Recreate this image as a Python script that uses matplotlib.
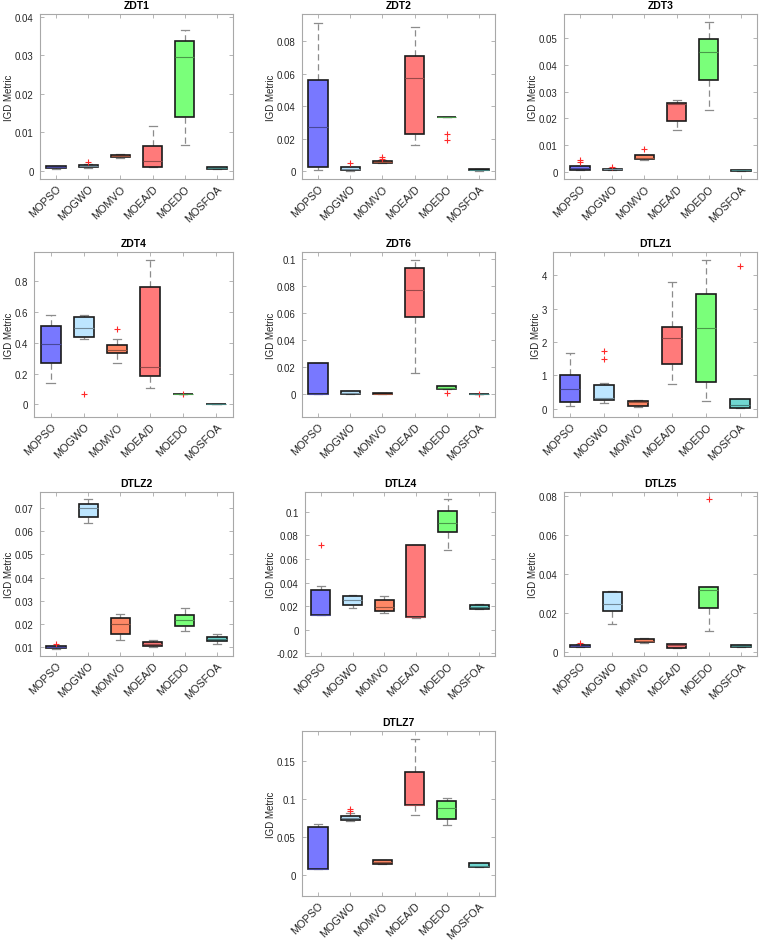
import matplotlib
matplotlib.use("Agg")
import matplotlib.pyplot as plt
import matplotlib.transforms as mtransforms
from matplotlib.ticker import MultipleLocator, FormatStrFormatter
from matplotlib.colors import to_rgb

plt.rcParams['font.family'] = ['Liberation Sans', 'DejaVu Sans']

algorithms = ['MOPSO', 'MOGWO', 'MOMVO', 'MOEA/D', 'MOEDO', 'MOSFOA']
colors = ['#7878ff', '#bde6ff', '#ff8866', '#ff7a7a', '#7aff7a', '#70d6d0']

# box statistics: lower whisker, q1, median, q3, upper whisker, outliers
zdt1_lo = [0.0005, 0.0007, 0.0032, 0.0009, 0.0067, 0.0003]
zdt1_q1 = [0.0007, 0.0009, 0.0034, 0.00095, 0.0140, 0.0004]
zdt1_med = [0.0009, 0.0012, 0.0037, 0.0024, 0.0294, 0.0006]
zdt1_q3 = [0.0012, 0.0014, 0.0040, 0.0064, 0.0338, 0.0009]
zdt1_hi = [0.0013, 0.0017, 0.0042, 0.0117, 0.0365, 0.0010]
zdt1_out = [[], [0.0022], [], [], [], []]

zdt2_lo = [0.0006, 0.0003, 0.0047, 0.0161, 0.0333, 0.0003]
zdt2_q1 = [0.00265, 0.0006, 0.0050, 0.0231, 0.0333, 0.0004]
zdt2_med = [0.0273, 0.0015, 0.0055, 0.0573, 0.0333, 0.0008]
zdt2_q3 = [0.0559, 0.0022, 0.0061, 0.0710, 0.0333, 0.0012]
zdt2_hi = [0.0914, 0.0025, 0.0065, 0.0890, 0.0333, 0.0013]
zdt2_out = [[], [0.0047], [0.0086, 0.0073], [], [0.0227, 0.0190], []]

zdt3_lo = [0.0005, 0.0007, 0.0045, 0.0156, 0.0233, 0.0003]
zdt3_q1 = [0.0007, 0.0008, 0.0047, 0.0189, 0.0344, 0.0004]
zdt3_med = [0.0013, 0.0010, 0.0053, 0.0253, 0.0449, 0.0005]
zdt3_q3 = [0.0020, 0.0012, 0.0062, 0.0258, 0.0496, 0.0006]
zdt3_hi = [0.0022, 0.0013, 0.0063, 0.0270, 0.0560, 0.0007]
zdt3_out = [[0.0045, 0.0035], [0.0019], [0.0087], [], [], []]

zdt4_lo = [0.137, 0.427, 0.267, 0.106, 0.065, 0.0]
zdt4_q1 = [0.271, 0.438, 0.334, 0.184, 0.065, 0.0]
zdt4_med = [0.392, 0.499, 0.353, 0.243, 0.065, 0.0]
zdt4_q3 = [0.5095, 0.568, 0.384, 0.763, 0.065, 0.0]
zdt4_hi = [0.579, 0.579, 0.423, 0.937, 0.065, 0.0]
zdt4_out = [[], [0.065], [0.492], [], [0.065], []]

zdt6_lo = [0.0, 0.0, 0.0002, 0.0157, 0.0039, 0.0001]
zdt6_q1 = [0.0, 0.0, 0.0002, 0.0569, 0.0039, 0.0001]
zdt6_med = [0.0, 0.0010, 0.0005, 0.0766, 0.0050, 0.0002]
zdt6_q3 = [0.0231, 0.0022, 0.0008, 0.0933, 0.0061, 0.0003]
zdt6_hi = [0.0231, 0.0022, 0.0008, 0.0987, 0.0061, 0.0003]
zdt6_out = [[], [], [], [], [0.0012], [0.0]]

dtlz1_lo = [0.07, 0.18, 0.05, 0.75, 0.24, 0.02]
dtlz1_q1 = [0.20, 0.25, 0.09, 1.35, 0.79, 0.03]
dtlz1_med = [0.59, 0.32, 0.19, 2.12, 2.42, 0.12]
dtlz1_q3 = [1.02, 0.70, 0.23, 2.44, 3.45, 0.30]
dtlz1_hi = [1.67, 0.78, 0.26, 3.81, 4.47, 0.30]
dtlz1_out = [[], [1.73, 1.49], [], [], [], [4.28]]

dtlz2_lo = [0.0095, 0.0635, 0.0130, 0.0101, 0.0169, 0.0113]
dtlz2_q1 = [0.0097, 0.0660, 0.0159, 0.0106, 0.0192, 0.0126]
dtlz2_med = [0.0101, 0.0700, 0.0200, 0.0116, 0.0217, 0.0135]
dtlz2_q3 = [0.0106, 0.0716, 0.0228, 0.0123, 0.0238, 0.0143]
dtlz2_hi = [0.0108, 0.0739, 0.0243, 0.0132, 0.0269, 0.0156]
dtlz2_out = [[0.0116], [], [], [], [], []]

dtlz4_lo = [0.0125, 0.0182, 0.0142, 0.0100, 0.0680, 0.0178]
dtlz4_q1 = [0.0125, 0.0205, 0.0160, 0.0108, 0.0829, 0.0179]
dtlz4_med = [0.0125, 0.0250, 0.0194, 0.0110, 0.0906, 0.0195]
dtlz4_q3 = [0.0336, 0.0285, 0.0248, 0.0715, 0.1006, 0.0208]
dtlz4_hi = [0.0373, 0.0291, 0.0282, 0.0715, 0.1110, 0.0219]
dtlz4_out = [[0.0715], [], [], [], [], []]

dtlz5_lo = [0.0025, 0.0144, 0.0047, 0.0021, 0.0105, 0.0026]
dtlz5_q1 = [0.0027, 0.0209, 0.0050, 0.0021, 0.0225, 0.0027]
dtlz5_med = [0.0032, 0.0247, 0.0057, 0.0033, 0.0318, 0.0030]
dtlz5_q3 = [0.0037, 0.0306, 0.0064, 0.0043, 0.0335, 0.0034]
dtlz5_hi = [0.0039, 0.0314, 0.0071, 0.0043, 0.0335, 0.0035]
dtlz5_out = [[0.0045], [], [], [], [0.0786], []]

dtlz7_lo = [0.0079, 0.0712, 0.0148, 0.0792, 0.0660, 0.0100]
dtlz7_q1 = [0.0079, 0.0726, 0.0150, 0.0919, 0.0739, 0.0101]
dtlz7_med = [0.0079, 0.0748, 0.0170, 0.0919, 0.0880, 0.0125]
dtlz7_q3 = [0.0633, 0.0778, 0.0193, 0.1363, 0.0981, 0.0154]
dtlz7_hi = [0.0677, 0.0822, 0.0200, 0.1799, 0.1016, 0.0156]
dtlz7_out = [[], [0.0866, 0.0840], [], [], [], []]

titles = ['ZDT1', 'ZDT2', 'ZDT3', 'ZDT4', 'ZDT6', 'DTLZ1', 'DTLZ2', 'DTLZ4', 'DTLZ5', 'DTLZ7']
stats = [
    (zdt1_lo, zdt1_q1, zdt1_med, zdt1_q3, zdt1_hi, zdt1_out),
    (zdt2_lo, zdt2_q1, zdt2_med, zdt2_q3, zdt2_hi, zdt2_out),
    (zdt3_lo, zdt3_q1, zdt3_med, zdt3_q3, zdt3_hi, zdt3_out),
    (zdt4_lo, zdt4_q1, zdt4_med, zdt4_q3, zdt4_hi, zdt4_out),
    (zdt6_lo, zdt6_q1, zdt6_med, zdt6_q3, zdt6_hi, zdt6_out),
    (dtlz1_lo, dtlz1_q1, dtlz1_med, dtlz1_q3, dtlz1_hi, dtlz1_out),
    (dtlz2_lo, dtlz2_q1, dtlz2_med, dtlz2_q3, dtlz2_hi, dtlz2_out),
    (dtlz4_lo, dtlz4_q1, dtlz4_med, dtlz4_q3, dtlz4_hi, dtlz4_out),
    (dtlz5_lo, dtlz5_q1, dtlz5_med, dtlz5_q3, dtlz5_hi, dtlz5_out),
    (dtlz7_lo, dtlz7_q1, dtlz7_med, dtlz7_q3, dtlz7_hi, dtlz7_out),
]

# axes limits and tick step for each panel
ylims = [(-0.0022, 0.0407), (-0.0049, 0.0967), (-0.0027, 0.0591), (-0.082, 0.991),
         (-0.0167, 0.1048), (-0.25, 4.7), (0.0063, 0.0769), (-0.0225, 0.117),
         (-0.0021, 0.082), (-0.0277, 0.19)]
ysteps = [0.01, 0.02, 0.01, 0.2, 0.02, 1, 0.01, 0.02, 0.02, 0.05]

# axes boxes in pixels: left, right, top, bottom
boxes_px = [(40, 233, 15, 180), (302, 495, 15, 180), (564, 757, 15, 180),
            (34, 233, 253, 418), (302, 495, 253, 418), (553, 757, 253, 418),
            (40, 233, 493, 657), (305, 495, 493, 657), (564, 757, 493, 657),
            (302, 495, 732, 897)]

W, H = 760, 945
fig = plt.figure(figsize=(W / 100, H / 100), dpi=100)

spine_col = '#a8a8a8'
text_col = '#262626'

# small shift of the rotated category labels, like the MATLAB layout
label_shift = mtransforms.ScaledTranslation(5 / 100, -3 / 100, fig.dpi_scale_trans)


def darker(c, f=0.6):
    r, g, b = to_rgb(c)
    return (r * f, g * f, b * f)


for k in range(len(titles)):
    l, r, t, b = boxes_px[k]
    ax = fig.add_axes([l / W, 1 - b / H, (r - l) / W, (b - t) / H])
    lo, q1, med, q3, hi, out = stats[k]
    bstats = []
    for i in range(len(algorithms)):
        bstats.append(dict(whislo=lo[i], q1=q1[i], med=med[i], q3=q3[i],
                           whishi=hi[i], fliers=out[i]))
    bp = ax.bxp(bstats, positions=range(1, 7), widths=0.6, capwidths=0.25,
                patch_artist=True, showfliers=True,
                boxprops=dict(edgecolor='#1a1a1a', linewidth=1.2),
                whiskerprops=dict(color='#8c8c8c', linewidth=0.9, linestyle=(0, (5, 3))),
                capprops=dict(color='#8c8c8c', linewidth=0.9),
                flierprops=dict(marker='+', markeredgecolor='#ff2a2a', markersize=4.5,
                                markeredgewidth=0.8, linestyle='none'),
                medianprops=dict(linewidth=0.8))
    for patch, med_line, c in zip(bp['boxes'], bp['medians'], colors):
        patch.set_facecolor(c)
        med_line.set_color(darker(c))
    for w in bp['whiskers']:
        w.set_zorder(1)
    for c in bp['caps']:
        c.set_zorder(1)

    ax.set_xlim(0.5, 6.5)
    ax.set_ylim(*ylims[k])
    ax.yaxis.set_major_locator(MultipleLocator(ysteps[k]))
    ax.yaxis.set_major_formatter(FormatStrFormatter('%g'))
    ax.set_xticks(range(1, 7))
    ax.set_xticklabels(algorithms, rotation=45, ha='right', rotation_mode='anchor',
                       fontsize=7.8)
    for lab in ax.get_xticklabels():
        lab.set_transform(lab.get_transform() + label_shift)
    ax.tick_params(direction='in', length=3, width=0.6, color=spine_col,
                   labelcolor=text_col, top=True, right=True)
    ax.tick_params(axis='y', labelsize=7, pad=4.5)
    ax.tick_params(axis='x', pad=3)
    for s in ax.spines.values():
        s.set_color(spine_col)
        s.set_linewidth(0.8)
    ax.set_title(titles[k], fontsize=7.5, fontweight='bold', color='black', pad=4)
    ax.set_ylabel('IGD Metric', fontsize=7, color=text_col, labelpad=0.5)

fig.savefig('out.png', dpi=100)
